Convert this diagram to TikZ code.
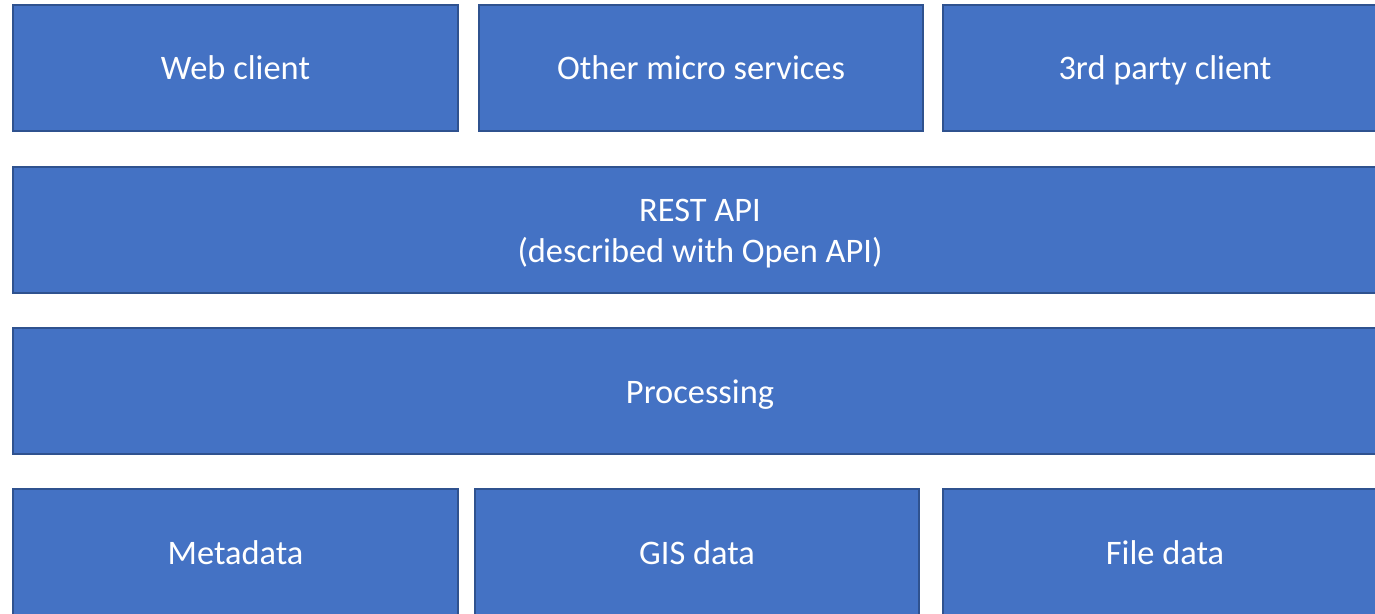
\documentclass[tikz,border=0pt]{standalone}
\usepackage{fontspec}
\setmainfont{Carlito}
\definecolor{boxfill}{HTML}{4472C4}
\definecolor{boxline}{HTML}{2F528F}
\begin{document}
\begin{tikzpicture}[x=0.5pt,y=-0.5pt,
  layerbox/.style={draw=boxline, fill=boxfill, line width=1.1pt, text=white,
    font=\fontsize{17.2}{20.5}\selectfont, inner sep=0pt,
    minimum height=63pt},
  oneline/.style={layerbox, text height=16.4pt, text depth=4.4pt},
  twoline/.style={layerbox, align=center}]
\useasboundingbox (0,0) rectangle (1375,614);
\clip (0,0) rectangle (1375,614);
\node[oneline, minimum width=222.5pt] (web) at (235.5,68) {Web client};
\node[oneline, minimum width=222pt] (other) at (701,68) {Other micro services};
\node[oneline, minimum width=222pt] (third) at (1165,68) {3rd party client};
\node[twoline, minimum width=687pt] (rest) at (700,230) {\rule{0pt}{16.4pt}REST API\\(described with Open API)\rule[-4.2pt]{0pt}{4.2pt}};
\node[oneline, minimum width=687pt] (proc) at (700,391) {Processing};
\node[oneline, minimum width=222.5pt] (meta) at (235.5,552) {Metadata};
\node[oneline, minimum width=222pt] (gis) at (697,552) {GIS data};
\node[oneline, minimum width=222pt] (file) at (1165,552) {File data};
\end{tikzpicture}
\end{document}
